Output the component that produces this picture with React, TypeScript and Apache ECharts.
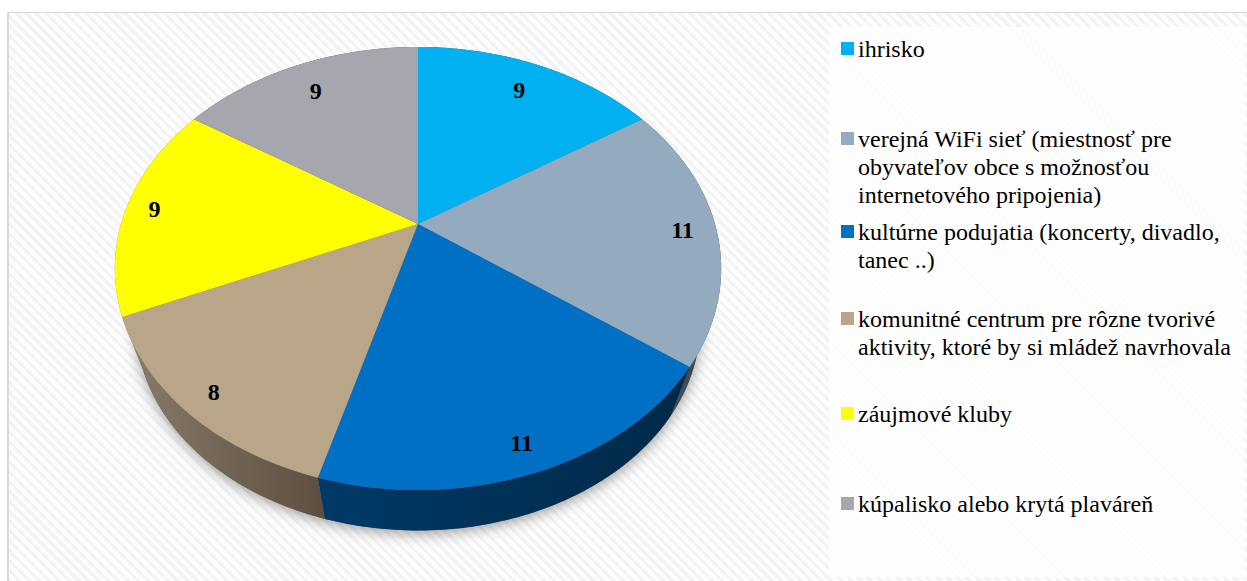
import React, { useEffect, useRef } from "react";
import * as echarts from "echarts";

const categories = [
  "ihrisko",
  "verejná WiFi sieť (miestnosť pre\nobyvateľov obce s možnosťou\ninternetového pripojenia)",
  "kultúrne podujatia (koncerty, divadlo,\ntanec ..)",
  "komunitné centrum pre rôzne tvorivé\naktivity, ktoré by si mládež navrhovala",
  "záujmové kluby",
  "kúpalisko alebo krytá plaváreň",
];
const values = [9, 11, 11, 8, 9, 9];
const colors = ["#00b0f0", "#94abbf", "#0070c5", "#b9a587", "#ffff00", "#a6a6ae"];
const wallLeft = ["#00628a", "#4a5a68", "#003a68", "#8b7c6b", "#8b7c6b", "#55555a"];
const wallRight = ["#00628a", "#38444e", "#002947", "#5c4f3f", "#8b7c6b", "#55555a"];
const labelRadii = [0.83, 0.89, 0.9, 0.9, 0.9, 0.82];
const legendTops = [35, 125, 218, 305, 400, 490];

const TOTAL = values.reduce((a, b) => a + b, 0);
const APEX = [418, 224];
const BASE = [418, 283];
const K = 0.201;
const AX = 297;
const BY = 212.6;
const BASE_SCALE = 0.93;
const LINE = 28;
const SERIF = "'Liberation Serif', 'Times New Roman', serif";

function project(deg: number, r: number): [number, number] {
  const t = (deg * Math.PI) / 180;
  const X = r * Math.sin(t);
  const Y = r * Math.cos(t);
  const d = 1 + K * Y;
  return [(AX * X) / d, (-BY * Y) / d];
}
const top = (deg: number, r = 1): number[] => {
  const p = project(deg, r);
  return [APEX[0] + p[0], APEX[1] + p[1]];
};
const bottom = (deg: number): number[] => {
  const p = project(deg, 1);
  return [BASE[0] + p[0] * BASE_SCALE, BASE[1] + p[1] * BASE_SCALE];
};
function arc(a: number, b: number, f: (d: number) => number[]): number[][] {
  const n = Math.max(2, Math.ceil(b - a));
  const out: number[][] = [];
  for (let i = 0; i <= n; i++) out.push(f(a + ((b - a) * i) / n));
  return out;
}
function sliceAngles(i: number): [number, number] {
  const before = values.slice(0, i).reduce((a, b) => a + b, 0);
  return [(before / TOTAL) * 360, ((before + values[i]) / TOTAL) * 360];
}

export default function App() {
  const ref = useRef<HTMLDivElement>(null);
  useEffect(() => {
    const chart = echarts.init(ref.current!, null, { renderer: "svg", width: 1247, height: 581 });
    const series = categories.map((name, i) => ({
      type: "custom",
      name,
      coordinateSystem: "none",
      silent: true,
      itemStyle: { color: colors[i] },
      data: [[values[i]]],
      renderItem: () => {
        const [a, b] = sliceAngles(i);
        const children: any[] = [];
        if (i === 0) {
          children.push({
            type: "polygon",
            z2: 0,
            shape: { points: arc(0, 360, bottom) },
            style: {
              fill: "#666",
              shadowBlur: 14,
              shadowColor: "rgba(0,0,0,0.38)",
              shadowOffsetX: 0,
              shadowOffsetY: 3,
            },
          });
        }
        const topArc = arc(a, b, (d) => top(d));
        const baseArc = arc(a, b, bottom);
        children.push({
          type: "polygon",
          z2: 1,
          shape: { points: topArc.concat(baseArc.slice().reverse()) },
          style: {
            fill: new echarts.graphic.LinearGradient(0, 0, 1, 0, [
              { offset: 0, color: wallLeft[i] },
              { offset: 1, color: wallRight[i] },
            ]),
          },
        });
        children.push({
          type: "polygon",
          z2: 2,
          shape: { points: [APEX].concat(topArc) },
          style: { fill: colors[i] },
        });
        const lp = top((a + b) / 2, labelRadii[i]);
        children.push({
          type: "text",
          z2: 3,
          x: lp[0] - 1,
          y: lp[1] + 1,
          style: {
            text: String(values[i]),
            fill: "#000",
            font: `bold 24px ${SERIF}`,
            align: "center",
            verticalAlign: "middle",
          },
        });
        return { type: "group", children };
      },
    }));
    const legend = categories.map((name, i) => {
      const h = name.split("\n").length * LINE;
      return {
        data: [name],
        left: 841,
        top: legendTops[i],
        orient: "vertical",
        itemWidth: 13,
        itemHeight: h,
        itemGap: 0,
        // the square sits beside the first line; the two empty sub-paths stretch the box to the full text height
        icon: `path://M0 0ZM0 ${h}ZM0 7H13V20H0Z`,
        selectedMode: false,
        textStyle: {
          fontFamily: SERIF,
          fontSize: 24,
          lineHeight: LINE,
          color: "#000",
          padding: [0, 0, 0, -1],
        },
        itemStyle: { borderWidth: 0 },
        align: "left",
        padding: 0,
      };
    });
    chart.setOption({
      animation: false,
      backgroundColor: "transparent",
      tooltip: { show: false },
      legend,
      series,
    } as any);
    return () => chart.dispose();
  }, []);
  return (
    <div style={{ position: "fixed", left: 0, top: 0, width: 1247, height: 581, overflow: "hidden", background: "#fff" }}>
      <div
        style={{
          position: "absolute",
          left: 7,
          top: 12,
          width: 1260,
          height: 600,
          boxSizing: "border-box",
          borderLeft: "2px solid #d9d9d9",
          borderTop: "1px solid #d9d9d9",
          background: "repeating-linear-gradient(45deg, #f3f3f3 0 3px, #fdfdfd 3px 7px)",
        }}
      />
      <div
        style={{
          position: "absolute",
          left: 829,
          top: 27,
          width: 416,
          height: 550,
          background: "rgba(255,255,255,0.7)",
        }}
      />
      <div ref={ref} style={{ position: "absolute", left: 0, top: 0, width: 1247, height: 581 }} />
    </div>
  );
}
